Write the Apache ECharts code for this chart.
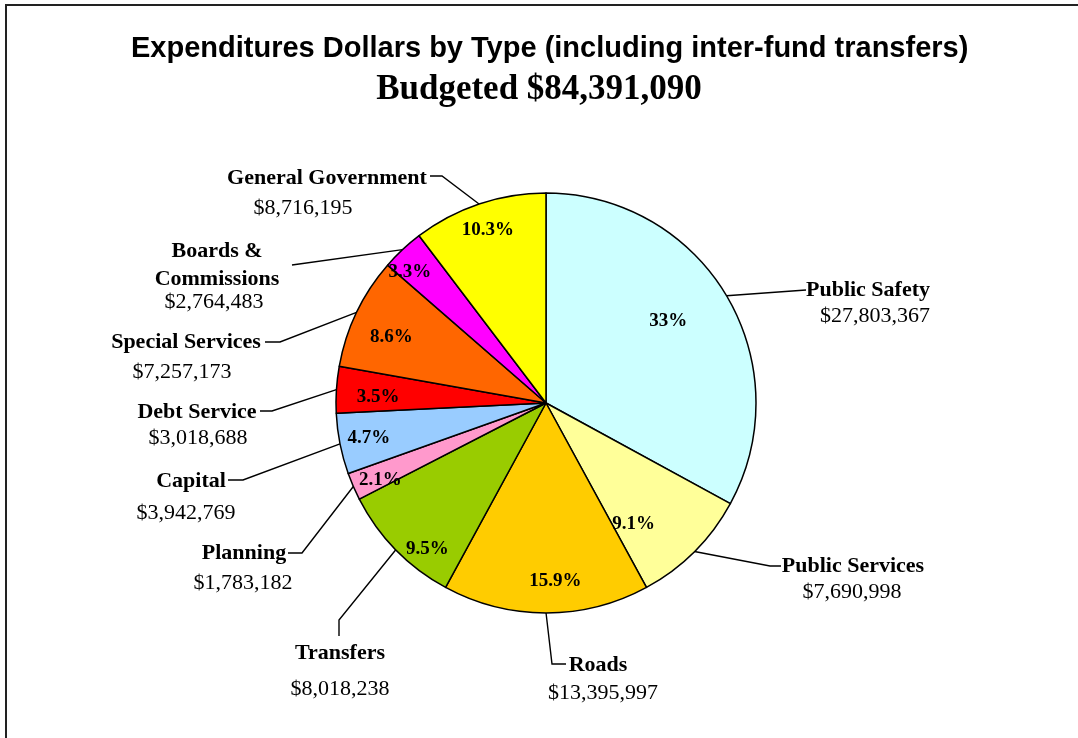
<!DOCTYPE html>
<html>
<head>
<meta charset="utf-8">
<script src="https://cdn.jsdelivr.net/npm/echarts@6/dist/echarts.min.js"></script>
<style>
  html, body { margin: 0; padding: 0; background: #fff; }
  #chart { width: 1078px; height: 738px; }
</style>
</head>
<body>
<div id="chart"></div>
<script>
// Expenditure categories, clockwise from twelve o'clock
const categories = [
  'Public Safety', 'Public Services', 'Roads', 'Transfers', 'Planning',
  'Capital', 'Debt Service', 'Special Services', 'Boards &\nCommissions', 'General Government'
];
// Budgeted dollars per category
const amounts = [
  27803367, 7690998, 13395997, 8018238, 1783182,
  3942769, 3018688, 7257173, 2764483, 8716195
];
// Share labels printed inside each slice
const shareLabels = ['33%', '9.1%', '15.9%', '9.5%', '2.1%', '4.7%', '3.5%', '8.6%', '3.3%', '10.3%'];
const sliceColors = [
  '#CCFFFF', '#FFFF99', '#FFCC00', '#99CC00', '#FF99CC',
  '#99CCFF', '#FF0000', '#FF6600', '#FF00FF', '#FFFF00'
];
const titleText = 'Expenditures Dollars by Type (including inter-fund transfers)';

const money = v => '$' + v.toLocaleString('en-US');
const total = amounts.reduce((a, b) => a + b, 0);

// Pie geometry (pixels)
const CX = 546, CY = 403, R = 210;
const SERIF = '"Liberation Serif", "Times New Roman", serif';

// Callout placement: block centre x, first-line centre y, gap to the amount line,
// horizontal nudge of the amount line, and the bend/end points of the leader line.
const callouts = [
  { x: 868, y: 290, lh: 24, gap: 26, shift: 7,   line: [[806, 290]] },
  { x: 853, y: 566, lh: 24, gap: 26, shift: -1,  line: [[770, 566], [781, 566]] },
  { x: 598, y: 665, lh: 24, gap: 28, shift: 5,   line: [[552, 664], [566, 664]] },
  { x: 340, y: 653, lh: 24, gap: 36, shift: 0,   line: [[339, 620], [339, 636]] },
  { x: 244, y: 553, lh: 24, gap: 30, shift: -1,  line: [[302, 553], [288, 553]] },
  { x: 191, y: 481, lh: 24, gap: 32, shift: -5,  line: [[243, 480], [228, 480]] },
  { x: 197, y: 412, lh: 24, gap: 26, shift: 1,   line: [[272, 411], [260, 411]] },
  { x: 186, y: 342, lh: 24, gap: 30, shift: -4,  line: [[280, 342], [265, 342]] },
  { x: 217, y: 251, lh: 28, gap: 23, shift: -3,  line: [[292, 265]] },
  { x: 327, y: 178, lh: 24, gap: 30, shift: -24, line: [[442, 176], [430, 176]] }
];
// Share label placement: fraction of the radius and angular nudge (degrees) from the slice middle
const shareRadius = [0.70, 0.71, 0.85, 0.895, 0.87, 0.86, 0.80, 0.80, 0.90, 0.87];
const shareNudge = [-3, 9, -3, -6.5, -1.5, 0, -1.5, -2.5, -3, 0];

// Mid angle of each slice, measured clockwise from the top
const midAngles = [];
(function () {
  let acc = 0;
  amounts.forEach(v => {
    midAngles.push((acc + v / 2) / total * Math.PI * 2);
    acc += v;
  });
})();
const polar = (a, r) => [CX + r * Math.sin(a), CY - r * Math.cos(a)];

const rich = {};
callouts.forEach((c, i) => {
  rich['n' + i] = { fontFamily: SERIF, fontWeight: 'bold', fontSize: 22, lineHeight: c.lh, color: '#000' };
  rich['v' + i] = {
    fontFamily: SERIF, fontSize: 22, color: '#000',
    lineHeight: 2 * c.gap - c.lh,
    padding: c.shift >= 0 ? [0, 0, 0, 2 * c.shift] : [0, -2 * c.shift, 0, 0]
  };
});

const pieData = categories.map((name, i) => ({
  name: name, value: amounts[i], itemStyle: { color: sliceColors[i] }
}));

const chart = echarts.init(document.getElementById('chart'), null, { renderer: 'canvas' });
chart.setOption({
  animation: false,
  backgroundColor: '#fff',
  title: [
    {
      text: titleText, left: 126, top: 29,
      textStyle: { fontFamily: '"Liberation Sans", Arial, sans-serif', fontWeight: 'bold', fontSize: 29, color: '#000' }
    },
    {
      text: 'Budgeted ' + money(total), left: 'center', top: 67,
      textStyle: { fontFamily: SERIF, fontWeight: 'bold', fontSize: 35, color: '#000' }
    }
  ],
  graphic: [
    {
      type: 'polyline', silent: true,
      shape: { points: [[6, 738], [6, 5], [1078, 5]] },
      style: { stroke: '#222', lineWidth: 2, fill: null }
    }
  ],
  series: [
    {
      type: 'pie',
      center: [CX, CY],
      radius: R,
      startAngle: 90,
      clockwise: true,
      avoidLabelOverlap: false,
      emphasis: { disabled: true },
      itemStyle: { borderColor: '#000', borderWidth: 1.5 },
      data: pieData,
      label: {
        show: true,
        position: 'outside',
        rich: rich,
        formatter: p => {
          const i = p.dataIndex;
          const nameLines = categories[i].split('\n').map(t => '{n' + i + '|' + t + '}').join('\n');
          return nameLines + '\n{v' + i + '|' + money(amounts[i]) + '}';
        }
      },
      labelLine: { show: true, length: 20, length2: 10, lineStyle: { color: '#000', width: 1.4 } },
      labelLayout: p => {
        const i = p.dataIndex;
        const c = callouts[i];
        return {
          x: c.x,
          y: c.y - c.lh / 2,
          align: 'center',
          verticalAlign: 'top',
          labelLinePoints: [polar(midAngles[i], R)].concat(c.line)
        };
      }
    },
    {
      // transparent copy that carries the share labels
      type: 'pie',
      silent: true,
      center: [CX, CY],
      radius: R,
      startAngle: 90,
      clockwise: true,
      emphasis: { disabled: true },
      itemStyle: { color: 'rgba(0,0,0,0)', borderWidth: 0 },
      data: categories.map((name, i) => ({ name: name, value: amounts[i] })),
      label: {
        show: true,
        position: 'inside',
        fontFamily: SERIF, fontWeight: 'bold', fontSize: 19, color: '#000',
        formatter: p => shareLabels[p.dataIndex]
      },
      labelLine: { show: false },
      labelLayout: p => {
        const i = p.dataIndex;
        const pt = polar(midAngles[i] + shareNudge[i] * Math.PI / 180, shareRadius[i] * R);
        return { x: pt[0], y: pt[1], align: 'center', verticalAlign: 'middle' };
      }
    }
  ]
});
</script>
</body>
</html>
